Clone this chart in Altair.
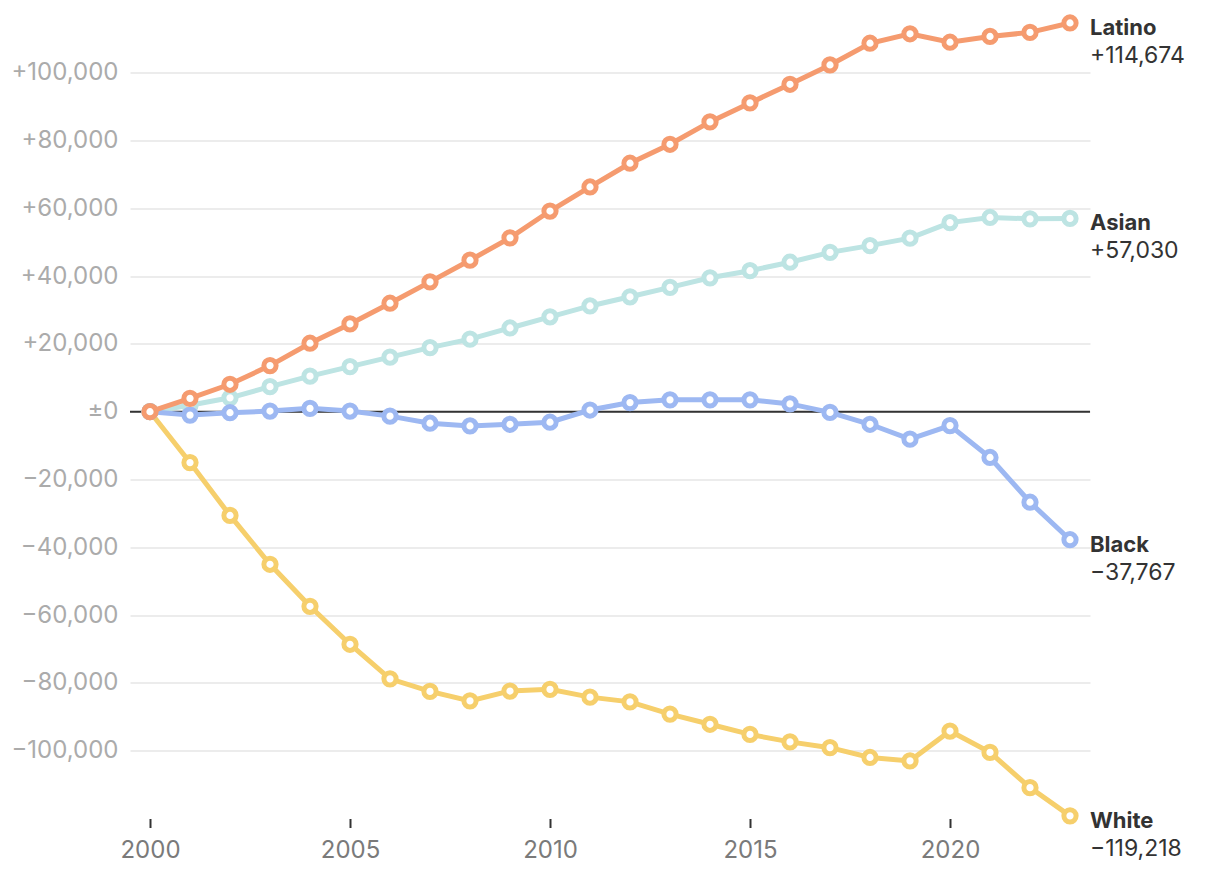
import altair as alt
import pandas as pd

years = list(range(2000, 2024))

latino = [0, 3950, 8100, 13600, 20200, 25900, 32000, 38300, 44700, 51300, 59200, 66300,
          73300, 78900, 85500, 91100, 96600, 102300, 108700, 111500, 109000, 110700, 111900, 114674]
asian = [0, 1900, 4100, 7400, 10500, 13300, 16100, 18900, 21400, 24700, 28000, 31200,
         33900, 36700, 39500, 41600, 44100, 47000, 49000, 51200, 55800, 57300, 56900, 57030]
black = [0, -1000, -300, 200, 1000, 200, -1300, -3400, -4200, -3700, -3100, 500,
         2700, 3500, 3500, 3500, 2300, -200, -3700, -8100, -4100, -13500, -26700, -37767]
white = [0, -15000, -30600, -45000, -57400, -68600, -78800, -82500, -85300, -82400, -81900, -84200,
         -85600, -89200, -92200, -95200, -97400, -99100, -102000, -103000, -94200, -100500, -110900, -119218]

groups = ["White", "Asian", "Black", "Latino"]   # drawing order, bottom to top
colors = {"Latino": "#F59B6F", "Asian": "#BDE4E3", "Black": "#9DB8F2", "White": "#F6CF6C"}
series = {"Latino": latino, "Asian": asian, "Black": black, "White": white}
end_texts = {"Latino": "+114,674", "Asian": "+57,030", "Black": "\u221237,767", "White": "\u2212119,218"}

rows = []
for g in groups:
    for y, v in zip(years, series[g]):
        rows.append({"year": y, "value": v, "group": g})
df = pd.DataFrame(rows)

ends = pd.DataFrame([{"year": years[-1], "value": series[g][-1], "group": g, "txt": end_texts[g]}
                     for g in groups])

FONT = "Inter"

xscale = alt.Scale(domain=[1999.5, 2023.5], nice=False, zero=False)
yscale = alt.Scale(domain=[-120000, 116000], nice=False, zero=False)

y_label_expr = ("datum.value > 0 ? '+' + format(datum.value, ',') : "
                "(datum.value < 0 ? '\u2212' + format(-datum.value, ',') : '\u00b10')")

base_axes = alt.Chart(df).mark_point(opacity=0).encode(
    x=alt.X("year:Q", scale=xscale,
            axis=alt.Axis(values=[2000, 2005, 2010, 2015, 2020], format="d", title=None,
                          grid=False, domain=False, ticks=True, tickSize=9, tickWidth=2,
                          tickColor="#333333", labelColor="#7a7a7a", labelFont=FONT,
                          labelFontSize=24, labelPadding=11)),
    y=alt.Y("value:Q", scale=yscale,
            axis=alt.Axis(values=list(range(-100000, 100001, 20000)), title=None,
                          labelExpr=y_label_expr, grid=True, gridColor="#e6e6e6",
                          gridWidth=1.5, domain=False, ticks=False, labelColor="#ababab",
                          labelFont=FONT, labelFontSize=24, labelPadding=12)),
)

zero_rule = alt.Chart(pd.DataFrame({"z": [0]})).mark_rule(color="#333333", strokeWidth=2).encode(
    y=alt.Y("z:Q", scale=yscale)
)

layers = [base_axes, zero_rule]
for g in groups:
    sub = alt.Chart(df).transform_filter(alt.datum.group == g)
    layers.append(sub.mark_line(color=colors[g], strokeWidth=5).encode(
        x=alt.X("year:Q", scale=xscale), y=alt.Y("value:Q", scale=yscale)))
    layers.append(sub.mark_point(shape="circle", filled=True, fill="white", stroke=colors[g],
                                 strokeWidth=5, size=150, opacity=1).encode(
        x=alt.X("year:Q", scale=xscale), y=alt.Y("value:Q", scale=yscale)))

names = alt.Chart(ends).mark_text(align="left", baseline="middle", dx=20, dy=5, font=FONT,
                                  fontSize=22, fontWeight="bold", color="#333333").encode(
    x=alt.X("year:Q", scale=xscale), y=alt.Y("value:Q", scale=yscale), text="group:N")
vals = alt.Chart(ends).mark_text(align="left", baseline="middle", dx=20, dy=33, font=FONT,
                                 fontSize=23, color="#333333").encode(
    x=alt.X("year:Q", scale=xscale), y=alt.Y("value:Q", scale=yscale), text="txt:N")
layers += [names, vals]

chart = alt.layer(*layers).properties(
    width=960, height=800,
    padding={"left": 122, "top": 10.5, "right": 120, "bottom": 50},
    autosize="none",
).configure_view(stroke=None)

chart.save("out.html", embed_options={"renderer": "svg", "actions": False})
